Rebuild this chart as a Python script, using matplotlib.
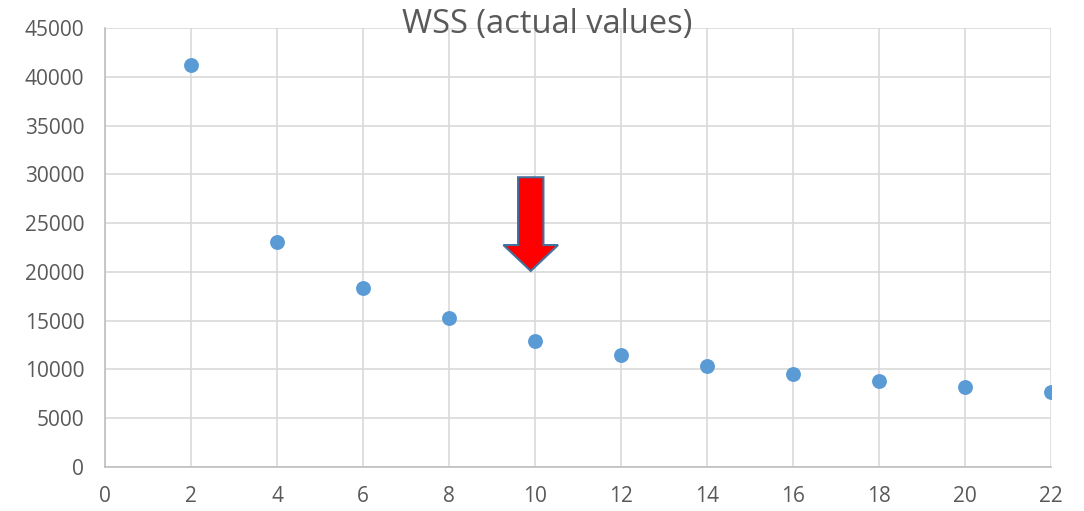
import matplotlib.pyplot as plt
from matplotlib.patches import FancyArrow

# Valores
k_values = [2, 4, 6, 8, 10, 12, 14, 16, 18, 20, 22]
wss = [41250, 23100, 18300, 15250, 12950, 11500, 10400, 9500, 8800, 8250, 7700]

x_ticks = list(range(0, 24, 2))
y_ticks = list(range(0, 50000, 5000))

plt.rcParams['font.family'] = ['Open Sans', 'DejaVu Sans']

fig = plt.figure(figsize=(10.84, 5.11), dpi=100)
ax = fig.add_axes([0.0969, 0.0861, 0.8727, 0.8591])

ax.scatter(k_values, wss, s=115, color='#5B9BD5', zorder=3, linewidths=0)

# Flecha roja señalando k = 10
arrow = FancyArrow(9.9, 29700, 0, -9600, width=0.59, head_width=1.27,
                   head_length=2650, length_includes_head=True,
                   facecolor='#FF0000', edgecolor='#41719C', linewidth=1.5, zorder=4)
ax.add_patch(arrow)

ax.set_xlim(0, 22)
ax.set_ylim(0, 45000)
ax.set_xticks(x_ticks)
ax.set_yticks(y_ticks)
ax.grid(True, color='#D9D9D9', linewidth=1.2)
ax.set_axisbelow(True)

for side in ['top', 'right']:
    ax.spines[side].set_visible(False)
for side in ['left', 'bottom']:
    ax.spines[side].set_color('#BFBFBF')
    ax.spines[side].set_linewidth(1.2)

ax.tick_params(length=0, labelsize=15, colors='#595959')
ax.tick_params(axis='y', pad=15)
ax.tick_params(axis='x', pad=14)

fig.text(0.5046, 0.953, 'WSS (actual values)', ha='center', va='center',
         fontsize=23.5, color='#595959')

fig.savefig('out.png', dpi=100)
